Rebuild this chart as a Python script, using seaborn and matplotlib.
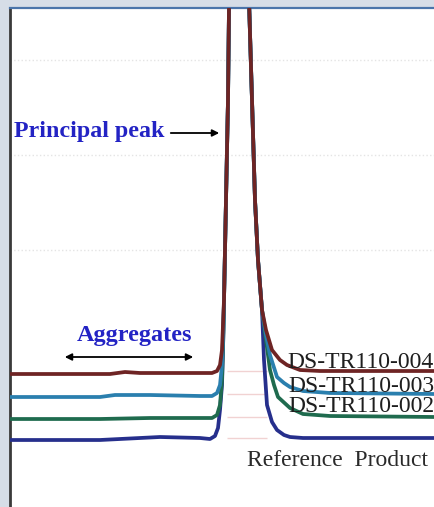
import numpy as np
import pandas as pd
import matplotlib
matplotlib.use("Agg")
import matplotlib.pyplot as plt
import seaborn as sns

# ---- data (retention time and detector signal, arbitrary units) ----
samples = ["DS-TR110-004", "DS-TR110-003", "DS-TR110-002", "Reference Product"]
colors = ["#6e2424", "#2a7fae", "#1f6b4e", "#262f8c"]

t_004 = [0.0, 5.0, 10.0, 11.5, 13.0, 16.0, 19.0, 20.2, 20.7, 21.0, 21.2, 21.4, 21.6, 21.8, 21.9,
         22.9, 23.9, 24.2, 24.5, 24.8, 25.2, 25.6, 26.2, 27.0, 27.7, 29.0, 31.0, 36.0, 42.5]
s_004 = [13.3, 13.3, 13.3, 13.5, 13.4, 13.4, 13.4, 13.4, 13.6, 14.2, 15.7, 20.7, 30.7, 40.7, 49.9,
         95.0, 50.7, 40.7, 30.7, 24.7, 19.7, 17.7, 15.7, 14.7, 14.2, 13.7, 13.6, 13.6, 13.6]

t_003 = [0.0, 9.0, 10.5, 14.0, 19.0, 20.2, 20.7, 21.0, 21.2, 21.3, 21.4, 21.6, 21.8, 21.9,
         22.9, 23.9, 24.2, 24.5, 24.8, 25.2, 25.6, 26.0, 26.7, 27.4, 28.0, 29.3, 32.0, 42.5]
s_003 = [11.0, 11.0, 11.2, 11.2, 11.1, 11.1, 11.4, 12.2, 14.2, 16.7, 20.7, 30.7, 40.7, 49.9,
         95.0, 50.7, 40.7, 30.7, 24.7, 19.7, 17.2, 15.2, 13.0, 12.4, 12.0, 11.6, 11.4, 11.3]

t_002 = [0.0, 9.0, 14.0, 19.0, 20.2, 20.7, 21.0, 21.2, 21.35, 21.4, 21.6, 21.8, 21.9,
         22.9, 23.9, 24.2, 24.5, 24.8, 25.2, 25.6, 26.0, 26.4, 26.8, 28.0, 29.3, 32.0, 42.5]
s_002 = [8.8, 8.8, 8.9, 8.9, 8.9, 9.2, 10.2, 12.7, 17.7, 20.7, 30.7, 40.7, 49.9,
         95.0, 50.7, 40.7, 30.7, 24.7, 19.7, 16.7, 13.7, 12.2, 11.0, 9.9, 9.3, 9.1, 9.0]

t_ref = [0.0, 9.0, 13.0, 15.0, 19.0, 20.0, 20.5, 20.8, 21.0, 21.2, 21.3, 21.4, 21.6, 21.8, 21.9,
         22.9, 23.9, 24.2, 24.5, 24.8, 25.2, 25.4, 25.7, 26.2, 26.7, 27.4, 28.0, 29.3, 42.5]
s_ref = [6.7, 6.7, 6.9, 7.0, 6.9, 6.8, 7.1, 7.9, 9.7, 12.2, 15.7, 20.7, 30.7, 40.7, 49.9,
         95.0, 50.7, 40.7, 30.7, 24.7, 19.7, 14.7, 10.2, 8.5, 7.7, 7.2, 7.0, 6.9, 6.9]

traces = [(t_004, s_004), (t_003, s_003), (t_002, s_002), (t_ref, s_ref)]

frames = []
for name, (t, s) in zip(samples, traces):
    frames.append(pd.DataFrame({"time": t, "signal": s, "sample": name}))
df = pd.concat(frames, ignore_index=True)

# ---- style ----
sns.set_style("white")
plt.rcParams["font.family"] = ["Liberation Serif", "DejaVu Serif"]

fig = plt.figure(figsize=(4.35, 5.07), dpi=100, facecolor="#d6dde7")
ax = fig.add_axes([10 / 435, 0.0, 1 - 10 / 435, 1 - 8 / 507])
ax.set_facecolor("white")

# faint baseline reference marks between the peak edges
for (t, s) in traces:
    ax.hlines(s[-1], 21.7, 25.7, color="#f1d2d2", lw=1.0, zorder=1)

sns.lineplot(data=df, x="time", y="signal", hue="sample", hue_order=samples[::-1],
             palette=colors[::-1], sort=False, estimator=None, linewidth=2.7,
             legend=False, ax=ax, zorder=3)
for ln in ax.get_lines():
    ln.set_solid_joinstyle("round")
    ln.set_solid_capstyle("round")

ax.set_xlim(0, 42.5)
ax.set_ylim(0, 49.9)

# faint dotted grid
ax.set_yticks([25.7, 35.2, 44.7])
ax.set_xticks([])
ax.tick_params(left=False, labelleft=False)
ax.grid(axis="y", linestyle=":", color="#e4e4e4", linewidth=1.0)
ax.set_xlabel("")
ax.set_ylabel("")

for side in ["bottom", "right"]:
    ax.spines[side].set_visible(False)
ax.spines["left"].set_color("#3a3a3a")
ax.spines["left"].set_linewidth(2.0)
ax.spines["top"].set_color("#4a74aa")
ax.spines["top"].set_linewidth(1.6)

# annotations
blue = "#2323c4"
ax.text(0.4, 37.6, "Principal peak", color=blue, fontsize=17.3, fontweight="bold",
        ha="left", va="center", zorder=5)
ax.annotate("", xy=(21.2, 37.4), xytext=(15.8, 37.4),
            arrowprops=dict(arrowstyle="-|>", color="black", lw=1.3, mutation_scale=10))

ax.text(12.45, 17.2, "Aggregates", color=blue, fontsize=17.5, fontweight="bold",
        ha="center", va="center", zorder=5)
ax.annotate("", xy=(5.2, 15.0), xytext=(18.6, 15.0),
            arrowprops=dict(arrowstyle="<|-|>", color="black", lw=1.3, mutation_scale=10))

label_y = [14.5, 12.1, 10.1]
for name, yv in zip(samples[:3], label_y):
    ax.text(42.4, yv, name, color="#1e1e1e", fontsize=17, ha="right", va="center", zorder=5)
ax.text(32.75, 4.6, "Reference  Product", color="#2a2a2a", fontsize=17,
        ha="center", va="center", zorder=5)

fig.savefig("out.png", dpi=100, facecolor=fig.get_facecolor())
